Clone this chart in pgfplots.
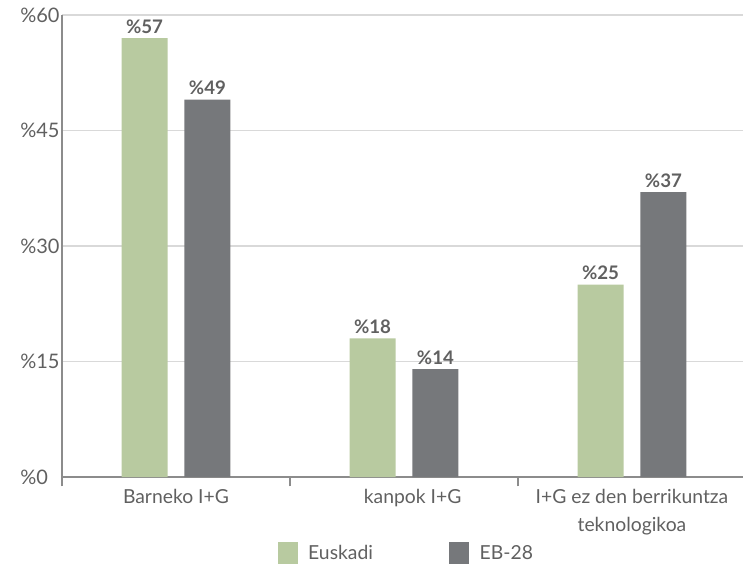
\documentclass[border=0pt]{standalone}
\usepackage{fontspec}
\setmainfont{Lato}
\usepackage{pgfplots}
\pgfplotsset{compat=1.18}
\definecolor{eus}{HTML}{B8CAA0}
\definecolor{eb}{HTML}{76787B}
\definecolor{axgray}{HTML}{8C8C8C}
\definecolor{gridgray}{HTML}{D9D9D9}
\definecolor{txt}{HTML}{606060}
\begin{document}
\begin{tikzpicture}
\useasboundingbox (0pt,0pt) rectangle (557.25pt,423.75pt);
\begin{axis}[
  at={(46.5pt,66pt)}, anchor=south west,
  scale only axis, width=510.75pt, height=346.5pt,
  xmin=-0.5, xmax=2.487, ymin=0, ymax=60,
  axis x line*=bottom, axis y line*=left,
  axis line style={color=axgray, line width=1.5pt},
  ymajorgrids, grid style={color=gridgray, line width=1.2pt},
  ytick={0,15,30,45,60}, yticklabels={\%0,\%15,\%30,\%45,\%60},
  ytick style={draw=none},
  yticklabel style={anchor=west, xshift=-34.8pt, font=\fontsize{15}{18}\selectfont, text=txt},
  xtick={0,1,2},
  xticklabels={Barneko I+G, \hspace*{13pt}kanpok I+G, {I+G ez den berrikuntza\\teknologikoa}},
  xticklabel style={align=center, yshift=-6pt, font=\fontsize{14.5}{21}\selectfont, text=txt},
  minor xtick={-0.5,0.5,1.5},
  tick align=outside, major tick length=0pt, minor tick length=7pt,
  minor tick style={color=axgray, line width=1.5pt},
  ybar=12.7pt, bar width=34.5pt,
  /pgf/number format/assume math mode=true,
  nodes near coords={\%\pgfmathprintnumber{\pgfplotspointmeta}},
  every node near coord/.append style={font=\bfseries\fontsize{14}{16}\selectfont, text=txt},
  legend columns=2,
  legend style={at={(0.506,-0.1645)}, anchor=center, draw=none, fill=none,
    font=\fontsize{14.5}{17}\selectfont, text=txt,
    /tikz/every odd column/.append style={column sep=6pt},
    /tikz/every even column/.append style={column sep=55pt}},
  legend image code/.code={\fill[#1] (0pt,-8pt) rectangle (15pt,8.5pt);},
]
\addplot[fill=eus, draw=none] coordinates {(0,57) (1,18) (2,25)};
\addplot[fill=eb, draw=none] coordinates {(0,49) (1,14) (2,37)};
\legend{Euskadi, EB-28}
\end{axis}
\end{tikzpicture}
\end{document}
